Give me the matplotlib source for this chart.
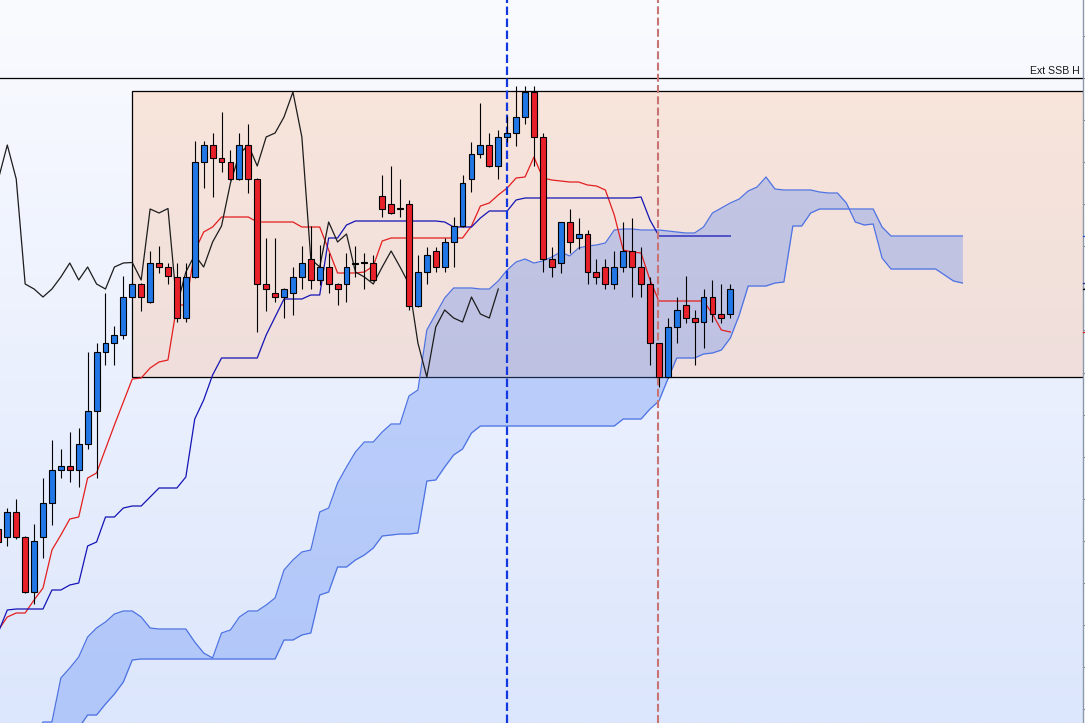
import numpy as np
import matplotlib
matplotlib.use("Agg")
import matplotlib.pyplot as plt
from matplotlib.patches import Rectangle
import matplotlib.transforms as mtransforms

# ---------------- data (price points) ----------------
first_bar = -1
opens = [194, 186, 211, 186, 131, 186, 220, 253, 257, 253, 279, 312, 371, 380, 388, 426, 439, 421, 460, 456,
         446, 405, 446, 561, 578, 565, 561, 544, 578, 544, 439, 430, 426, 430, 446, 464, 443, 456, 439, 439,
         459.5, 460, 460, 527, 519, 514, 519, 417, 451, 472, 456, 481, 497, 544, 569, 578, 557, 586, 590, 606,
         631, 586, 464, 460, 501, 485, 489, 451, 456, 439, 456, 472, 456, 439, 380, 346, 396, 418, 405, 401,
         426, 409, 409]
highs = [198, 215, 224, 187, 199, 245, 283, 274, 291, 295, 371, 380, 430, 397, 447, 441, 440, 472, 477, 460,
         460, 460, 582, 582, 590, 611, 573, 590, 599, 545, 485, 485, 435, 456, 477, 497, 478, 470, 440, 470,
         477, 470, 468, 548, 557, 544, 523, 468, 476, 476, 485, 506, 548, 581, 620, 590, 593, 607, 637, 637,
         637, 590, 476, 501, 514, 505, 493, 464, 464, 472, 501, 505, 476, 446, 380, 405, 426, 447, 413, 434,
         443, 439, 439]
lows = [177, 177, 184, 130, 119, 165, 198, 245, 241, 236, 274, 245, 358, 358, 384, 425, 412, 420, 450, 439,
        401, 401, 445, 535, 526, 551, 543, 543, 530, 391, 412, 421, 405, 408, 434, 434, 438, 430, 418, 421,
        446, 434, 442, 506, 509, 506, 413, 416, 439, 451, 451, 456, 496, 531, 565, 556, 544, 581, 577, 599,
        557, 451, 446, 450, 470, 474, 439, 439, 434, 434, 451, 426, 426, 358, 336, 345, 380, 400, 358, 375,
        401, 400, 405]
closes = [181, 211, 186, 131, 182, 220, 253, 257, 253, 279, 312, 371, 380, 388, 426, 439, 426, 460, 456, 447,
          405, 446, 561, 578, 565, 561, 544, 578, 544, 439, 434, 426, 434, 446, 460, 443, 456, 439, 434, 456,
          460, 460.5, 443, 514, 510, 514.5, 417, 451, 468, 456, 481, 497, 540, 569, 578, 557, 586, 590, 606, 631,
          586, 464, 456, 501, 481, 489, 451, 446, 439, 456, 472, 456, 439, 380, 346, 396, 413, 405, 401, 426,
          409, 405, 434]

tenkan = [93, 106, 110, 110, 123, 135, 173, 188, 204, 206, 245, 250, 274, 298, 321, 344, 345, 355, 361, 363,
          418, 418, 472, 491, 496, 506, 506, 506, 506, 501, 501, 501, 501, 501, 496, 496, 496, 473, 450, 450,
          450, 451, 457, 482, 485, 485, 485, 485, 485, 485, 485, 485, 485, 497, 517, 520, 528, 535, 545, 546,
          566, 545, 543, 542, 541, 541, 538, 537, 533, 508, 473, 471, 470, 443, 422, 422, 422, 422, 422, 422,
          409, 393, 391]
kijun = [91, 113, 114, 114, 114, 114, 133, 133, 138, 140, 177, 181, 206, 206, 215, 217, 217, 226, 235, 235,
         235, 246, 304, 323, 348, 365, 365, 365, 365, 365, 388, 406, 424, 424, 424, 428, 428, 485, 485, 498,
         502, 502, 502, 502, 502, 502, 502, 502, 502, 502, 501, 496, 496, 496, 505, 512, 512, 512, 523, 525,
         525, 525, 525, 525, 525, 525, 525, 525, 525, 525, 525, 525, 526, 503, 487, 487, 487, 487, 487, 487,
         487, 487, 487]

# Senkou spans, bars -1 .. 107 (projected 26 bars ahead)
span_a = [-37, -35, -32, -27, -14, 1, 1, 45, 55, 66, 86, 95, 101, 109, 112, 112, 106, 95, 94, 94,
          94, 94, 81, 70, 65, 90, 93, 106, 112, 112, 118, 125, 153, 163, 171, 173, 211, 215, 240, 256,
          271, 281, 281, 291, 299, 299, 327, 333, 393, 409, 425, 435, 435, 435, 434, 434, 442, 453, 461, 464,
          460, 462, 466, 471, 467, 475, 477, 478, 480, 493, 494, 494, 493, 493, 493, 492, 491, 490, 490, 496,
          510, 515, 520, 524, 532, 536, 546, 534, 533, 533, 533, 533, 531, 530, 530, 520, 501, 498, 499, 465,
          454, 454, 454, 454, 454, 454, 448, 442, 440]
span_b = [-67, -62, -57, -52, -47, -42, -35, -27, -19, -5, 8, 8, 19, 29, 41, 63, 64, 64, 64, 64,
          64, 64, 64, 64, 64, 64, 64, 64, 64, 64, 64, 64, 83, 83, 88, 90, 128, 131, 156, 156,
          163, 168, 175, 187, 188, 189, 189, 190, 242, 243, 256, 268, 274, 290, 297, 297, 297, 297, 297, 297,
          297, 297, 297, 297, 297, 297, 297, 297, 297, 297, 304, 304, 304, 314, 322, 344, 365, 365, 365, 369,
          370, 373, 385, 408, 437, 437, 437, 440, 441, 497, 497, 510, 514, 514, 514, 514, 514, 514, 514, 496,
          487, 487, 487, 487, 487, 487, 487, 487, 487]

chikou_shift = 26
ext_ssb_h = 645
box_top, box_bottom, box_start = 632, 346, 14
vline_blue, vline_red = 55.95, 72.85
label_text = "Ext SSB H"

# ---------------- figure ----------------
W, H = 1085, 723
fig = plt.figure(figsize=(W / 100, H / 100), dpi=100)
ax = fig.add_axes([0, 0, 1083 / W, 1])
XMIN, XMAX = -0.818, 120.51
YMIN, YMAX = 0, 723
ax.set_xlim(XMIN, XMAX)
ax.set_ylim(YMIN, YMAX)

# background gradient
grad = np.linspace(0, 1, 256)[:, None, None]
top = np.array([250, 251, 255]) / 255
bot = np.array([220, 230, 252]) / 255
img = top + (bot - top) * grad
ax.imshow(img, extent=[XMIN, XMAX, YMIN, YMAX], aspect='auto', origin='upper', zorder=0,
          interpolation='bilinear')

# zone rectangle
ax.add_patch(Rectangle((box_start, box_bottom), XMAX + 10 - box_start, box_top - box_bottom,
                       facecolor=(254 / 255, 172 / 255, 118 / 255, 0.25), edgecolor='black',
                       lw=0.9, zorder=1))

ax.axhline(ext_ssb_h, color='black', lw=0.9, zorder=2)

bars = np.arange(first_bar, first_bar + len(closes))
cloud_x = np.arange(first_bar, first_bar + len(span_a))

# cloud
ax.fill_between(cloud_x, span_a, span_b, color=(78 / 255, 127 / 255, 245 / 255), alpha=0.3,
                lw=0, zorder=2)
ax.plot(cloud_x, span_a, color='#4d72e2', lw=0.9, zorder=3)
ax.plot(cloud_x, span_b, color='#4d72e2', lw=0.9, zorder=3)

# lines
ax.plot(bars, tenkan, color='#e31e1e', lw=0.9, zorder=3)
ax.plot(bars, kijun, color='#1414b4', lw=0.9, zorder=3)
cl = np.array(closes)
ax.plot(bars[chikou_shift:] - chikou_shift, cl[chikou_shift:], color='#1c1c1c', lw=0.9, zorder=3)

# vertical dashed markers
ax.axvline(vline_blue, color='#1438e0', lw=1.6, dashes=(3.8, 1.6), zorder=4)
ax.axvline(vline_red, color='#c87474', lw=1.5, dashes=(3.8, 1.6), zorder=4)

# candles
bw = 0.66
for x, o, h, l, c in zip(bars, opens, highs, lows, closes):
    ax.plot([x, x], [l, h], color='black', lw=0.8, zorder=5, solid_capstyle='butt')
    col = '#2277e6' if c >= o else '#e8202a'
    lo, hi = min(o, c), max(o, c)
    ax.add_patch(Rectangle((x - bw / 2, lo), bw, max(hi - lo, 0.6), facecolor=col,
                           edgecolor='black', lw=0.8, zorder=6))

# text label
ax.text(1079.3 / 1083, (H - 74) / H, label_text, transform=ax.transAxes, ha='right', va='baseline',
        fontsize=7.6, family=['Liberation Sans', 'DejaVu Sans'], color='#1a1a1a', zorder=7)

# axes styling
for s in ['left', 'top', 'bottom']:
    ax.spines[s].set_visible(False)
ax.spines['right'].set_color('#8a98a8')
ax.spines['right'].set_linewidth(1.0)
ax.set_xticks([])
ax.yaxis.tick_right()
ax.set_yticks(np.arange(13.7, 723, 42.1))
ax.tick_params(axis='y', direction='out', length=2.2, width=0.8, color='#7a8898',
               labelright=False, labelleft=False)

# price markers on axis
trans = mtransforms.blended_transform_factory(ax.transAxes, ax.transData)
for val, col in [(kijun[-1], '#3050d0'), (closes[-1], 'black'), (tenkan[-1], '#e31e1e'),
                 (span_a[-1], '#1a2a8a')]:
    ax.plot([1, 1 + 3 / 1083], [val, val], transform=trans, color=col, lw=0.9, clip_on=False, zorder=8)

fig.savefig('out.png', dpi=100)
